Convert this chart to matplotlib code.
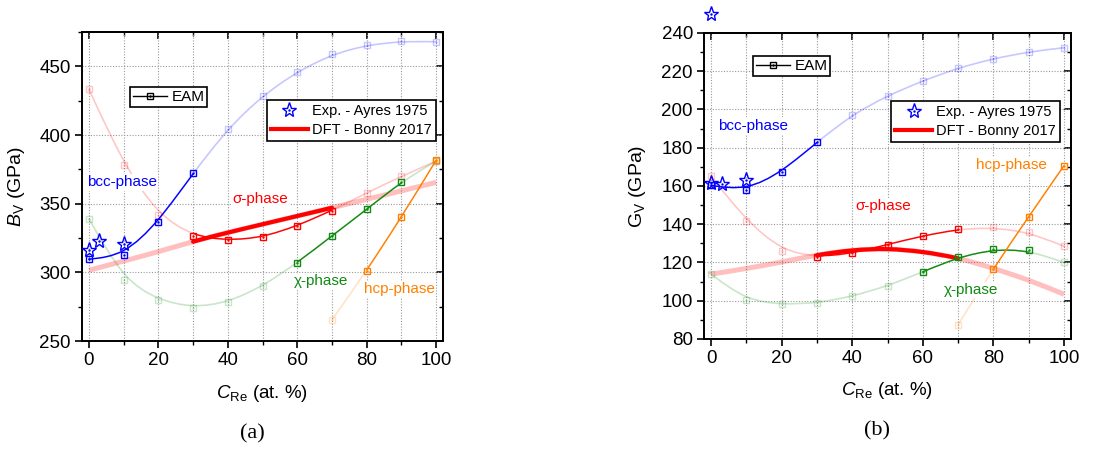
import numpy as np
import matplotlib
matplotlib.use("Agg")
import matplotlib.pyplot as plt
from matplotlib.path import Path
from matplotlib.patches import PathPatch
from matplotlib.lines import Line2D
from matplotlib.ticker import MultipleLocator
from matplotlib.legend_handler import HandlerTuple

plt.rcParams['font.family'] = ['Liberation Sans', 'DejaVu Sans']
plt.rcParams['mathtext.fontset'] = 'custom'
plt.rcParams['mathtext.rm'] = 'Liberation Sans'
plt.rcParams['mathtext.it'] = 'Liberation Sans:italic'

# ---------------- data ----------------
x_re = [0, 10, 20, 30, 40, 50, 60, 70, 80, 90, 100]
x_hcp = [70, 80, 90, 100]
exp_x_a = [0, 3, 10]
exp_x_b = [0, 0, 3, 10]

# (a) Voigt bulk modulus B_V (GPa)
bv_bcc = [309.6, 312.3, 336.8, 372.2, 404.7, 428.7, 446.1, 458.7, 465.5, 468.2, 467.9]
bv_sigma = [433.3, 378.5, 341.6, 326.4, 323.2, 325.4, 333.9, 345.0, 357.9, 369.8, 381.0]
bv_chi = [339.0, 294.6, 279.8, 274.2, 278.1, 289.8, 307.0, 326.6, 345.8, 365.9, 381.0]
bv_hcp = [265.5, 301.2, 340.2, 381.6]
bv_dft = [301.5, 308.2, 315.0, 322.5, 329.0, 335.0, 341.0, 347.0, 353.2, 359.3, 365.5]
bv_exp = [316.4, 322.7, 320.8]

# (b) Voigt shear modulus G_V (GPa)
gv_bcc = [160.3, 157.7, 167.3, 182.9, 197.3, 207.2, 215.0, 221.7, 226.6, 230.1, 232.3]
gv_sigma = [165.0, 141.9, 126.2, 122.7, 124.8, 129.4, 133.9, 137.4, 138.3, 135.8, 128.5]
gv_chi = [113.9, 100.2, 98.1, 98.7, 102.3, 107.7, 115.1, 122.7, 126.9, 126.4, 120.0]
gv_hcp = [87.5, 116.8, 143.9, 170.6]
gv_dft = [113.9, 116.8, 120.2, 124.0, 126.6, 127.4, 125.7, 122.5, 117.0, 110.9, 103.4]
gv_exp = [250.0, 161.7, 161.0, 163.1]

# stable index ranges (inclusive) for solid drawing
stable_bcc = (0, 3)
stable_sigma = (3, 7)
stable_chi = (6, 9)
stable_hcp = (1, 3)
stable_dft = (3, 7)

C_BLUE = '#0000ff'
C_RED = '#ff0000'
C_GREEN = '#108a10'
C_ORANGE = '#ff8000'


def bspline_segments(xs, ys):
    P = np.column_stack([xs, ys]).astype(float)
    Q = np.vstack([P[:1], P[:1], P, P[-1:], P[-1:]])
    segs = []
    for k in range(len(Q) - 3):
        q0, q1, q2, q3 = Q[k:k + 4]
        segs.append(((q0 + 4 * q1 + q2) / 6, (2 * q1 + q2) / 3,
                     (q1 + 2 * q2) / 3, (q1 + 4 * q2 + q3) / 6))
    return segs


def segs_path(segs):
    verts, codes = [], []
    for i, s in enumerate(segs):
        if i == 0:
            verts.append(s[0]); codes.append(Path.MOVETO)
        verts.extend([s[1], s[2], s[3]])
        codes.extend([Path.CURVE4] * 3)
    return Path(np.array(verts), codes)


def draw_phase(ax, xs, ys, stable, color, lw=1.0, falpha=0.22, z=3, marker=True):
    segs = bspline_segments(xs, ys)
    n = len(xs) - 1
    ax.add_patch(PathPatch(segs_path(segs), fill=False, edgecolor=color,
                           lw=lw * 1.2, alpha=falpha, zorder=1.5))
    s, e = stable
    ks = list(range(s + 1, e + 1))
    if s == 0:
        ks = [0] + ks
    if e == n:
        ks = ks + [n + 1]
    ax.add_patch(PathPatch(segs_path([segs[k] for k in ks]), fill=False,
                           edgecolor=color, lw=lw, zorder=z, capstyle='round'))
    if marker:
        xs = np.asarray(xs); ys = np.asarray(ys)
        mask = np.zeros(len(xs), bool); mask[s:e + 1] = True
        ax.plot(xs[~mask], ys[~mask], 's', mfc='none', mec=color, ms=5,
                mew=1.0, alpha=falpha, zorder=1.6)
        ax.plot(xs[~mask], ys[~mask], '.', color=color, ms=1.5, alpha=falpha, zorder=1.6)
        ax.plot(xs[mask], ys[mask], 's', mfc='none', mec=color, ms=5, mew=1.0, zorder=z + 0.5)
        ax.plot(xs[mask], ys[mask], '.', color=color, ms=1.5, zorder=z + 0.5)


def draw_dft(ax, xs, ys, stable):
    draw_phase(ax, xs, ys, stable, C_RED, lw=3.0, falpha=0.25, z=2.8, marker=False)


def style_axes(ax, ymaj, ymin, ylim):
    ax.set_xlim(-2, 102)
    ax.set_ylim(*ylim)
    ax.xaxis.set_major_locator(MultipleLocator(20))
    ax.xaxis.set_minor_locator(MultipleLocator(10))
    ax.yaxis.set_major_locator(MultipleLocator(ymaj))
    ax.yaxis.set_minor_locator(MultipleLocator(ymin))
    ax.tick_params(which='major', direction='out', length=5, width=1.2, labelsize=13.5, pad=3)
    ax.tick_params(which='minor', direction='out', length=3, width=1.0)
    for sp in ax.spines.values():
        sp.set_linewidth(1.4)
    ax.grid(True, axis='x', which='both', ls=(0, (1, 1.5)), color='#999999', lw=0.8)
    ax.grid(True, axis='y', which='major', ls=(0, (1, 1.5)), color='#999999', lw=0.8)
    ax.set_axisbelow(True)
    top = ax.secondary_xaxis('top')
    top.xaxis.set_major_locator(MultipleLocator(20))
    top.xaxis.set_minor_locator(MultipleLocator(10))
    top.tick_params(which='major', direction='in', length=5, width=1.2, labeltop=False)
    top.tick_params(which='minor', direction='in', length=3, width=1.0)
    right = ax.secondary_yaxis('right')
    right.yaxis.set_major_locator(MultipleLocator(ymaj))
    right.yaxis.set_minor_locator(MultipleLocator(ymin))
    right.tick_params(which='major', direction='in', length=5, width=1.2, labelright=False)
    right.tick_params(which='minor', direction='in', length=3, width=1.0)
    for a in (top, right):
        for sp in a.spines.values():
            sp.set_linewidth(1.4)


def add_legends(ax, pos1, pos2):
    eam = (Line2D([], [], color='k', lw=1.0, marker='s', mfc='none', ms=5, mew=1.0),
           Line2D([], [], color='k', ls='none', marker='.', ms=1.5))
    leg1 = ax.legend([eam], ['EAM'], loc='upper left', bbox_to_anchor=pos1,
                     borderaxespad=0, fontsize=11, fancybox=False, edgecolor='k',
                     framealpha=1, handlelength=2.2, borderpad=0.2, handletextpad=0.3,
                     handler_map={tuple: HandlerTuple(ndivide=1)})
    leg1.get_frame().set_linewidth(1.2)
    leg1.set_zorder(6)
    ax.add_artist(leg1)
    star = (Line2D([], [], ls='none', marker='*', mfc='none', mec=C_BLUE, ms=11, mew=1.0),
            Line2D([], [], ls='none', marker='.', color=C_BLUE, ms=1.5))
    dft = Line2D([], [], color=C_RED, lw=3.0)
    leg2 = ax.legend([star, dft], ['Exp. - Ayres 1975', 'DFT - Bonny 2017'],
                     loc='upper left', bbox_to_anchor=pos2, borderaxespad=0,
                     fontsize=10.5, fancybox=False, edgecolor='k', framealpha=1,
                     handlelength=2.5, borderpad=0.3, handletextpad=0.3,
                     labelspacing=0.3,
                     handler_map={tuple: HandlerTuple(ndivide=1)})
    leg2.get_frame().set_linewidth(1.2)
    leg2.set_zorder(6)


def phase_label(ax, x, y, s, color):
    ax.text(x, y, s, color=color, fontsize=11, ha='left', va='center', zorder=2.5,
            bbox=dict(facecolor='white', edgecolor='none', pad=1.0))


fig = plt.figure(figsize=(11.04, 4.5), dpi=100)
axa = fig.add_axes([0.0743, 0.2422, 0.3270, 0.6867])
axb = fig.add_axes([0.6377, 0.2467, 0.3324, 0.6800])

# ---------- panel (a) ----------
style_axes(axa, 50, 25, (250, 475))
draw_dft(axa, x_re, bv_dft, stable_dft)
draw_phase(axa, x_re, bv_bcc, stable_bcc, C_BLUE)
draw_phase(axa, x_re, bv_sigma, stable_sigma, C_RED)
draw_phase(axa, x_re, bv_chi, stable_chi, C_GREEN)
draw_phase(axa, x_hcp, bv_hcp, stable_hcp, C_ORANGE)
axa.plot(exp_x_a, bv_exp, ls='none', marker='*', mfc='none', mec=C_BLUE, ms=11, mew=1.0, zorder=5)
axa.plot(exp_x_a, bv_exp, ls='none', marker='.', color=C_BLUE, ms=1.5, zorder=5)
phase_label(axa, -0.6, 365.6, 'bcc-phase', C_BLUE)
phase_label(axa, 41.2, 353.5, 'σ-phase', C_RED)
phase_label(axa, 59.1, 293.4, 'χ-phase', C_GREEN)
phase_label(axa, 79.3, 287.8, 'hcp-phase', C_ORANGE)
add_legends(axa, (0.133, 0.822), (0.512, 0.780))
axa.set_ylabel(r'$B_{\mathrm{V}}$ (GPa)', fontsize=14)
axa.yaxis.set_label_coords(-0.152, 0.5)
axa.set_xlabel(r'$C_{\mathrm{Re}}$ (at. %)', fontsize=13.5)
axa.xaxis.set_label_coords(0.5, -0.136)

# ---------- panel (b) ----------
style_axes(axb, 20, 10, (80, 240))
draw_dft(axb, x_re, gv_dft, stable_dft)
draw_phase(axb, x_re, gv_bcc, stable_bcc, C_BLUE)
draw_phase(axb, x_re, gv_sigma, stable_sigma, C_RED)
draw_phase(axb, x_re, gv_chi, stable_chi, C_GREEN)
draw_phase(axb, x_hcp, gv_hcp, stable_hcp, C_ORANGE)
axb.plot(exp_x_b, gv_exp, ls='none', marker='*', mfc='none', mec=C_BLUE, ms=11, mew=1.0,
         zorder=5, clip_on=False)
axb.plot(exp_x_b, gv_exp, ls='none', marker='.', color=C_BLUE, ms=1.5, zorder=5, clip_on=False)
phase_label(axb, 2.1, 191.5, 'bcc-phase', C_BLUE)
phase_label(axb, 41.0, 149.3, 'σ-phase', C_RED)
phase_label(axb, 66.1, 105.6, 'χ-phase', C_GREEN)
phase_label(axb, 75.2, 171.0, 'hcp-phase', C_ORANGE)
add_legends(axb, (0.1335, 0.925), (0.5095, 0.778))
axb.set_ylabel(r'$\mathrm{G}_{\mathrm{V}}$ (GPa)', fontsize=14)
axb.yaxis.set_label_coords(-0.153, 0.5)
axb.set_xlabel(r'$C_{\mathrm{Re}}$ (at. %)', fontsize=13.5)
axb.xaxis.set_label_coords(0.5, -0.134)

fig.text(0.229, 0.036, '(a)', fontsize=16, family='Liberation Serif', ha='center', va='center')
fig.text(0.794, 0.042, '(b)', fontsize=16, family='Liberation Serif', ha='center', va='center')

fig.savefig('out.png', dpi=100)
